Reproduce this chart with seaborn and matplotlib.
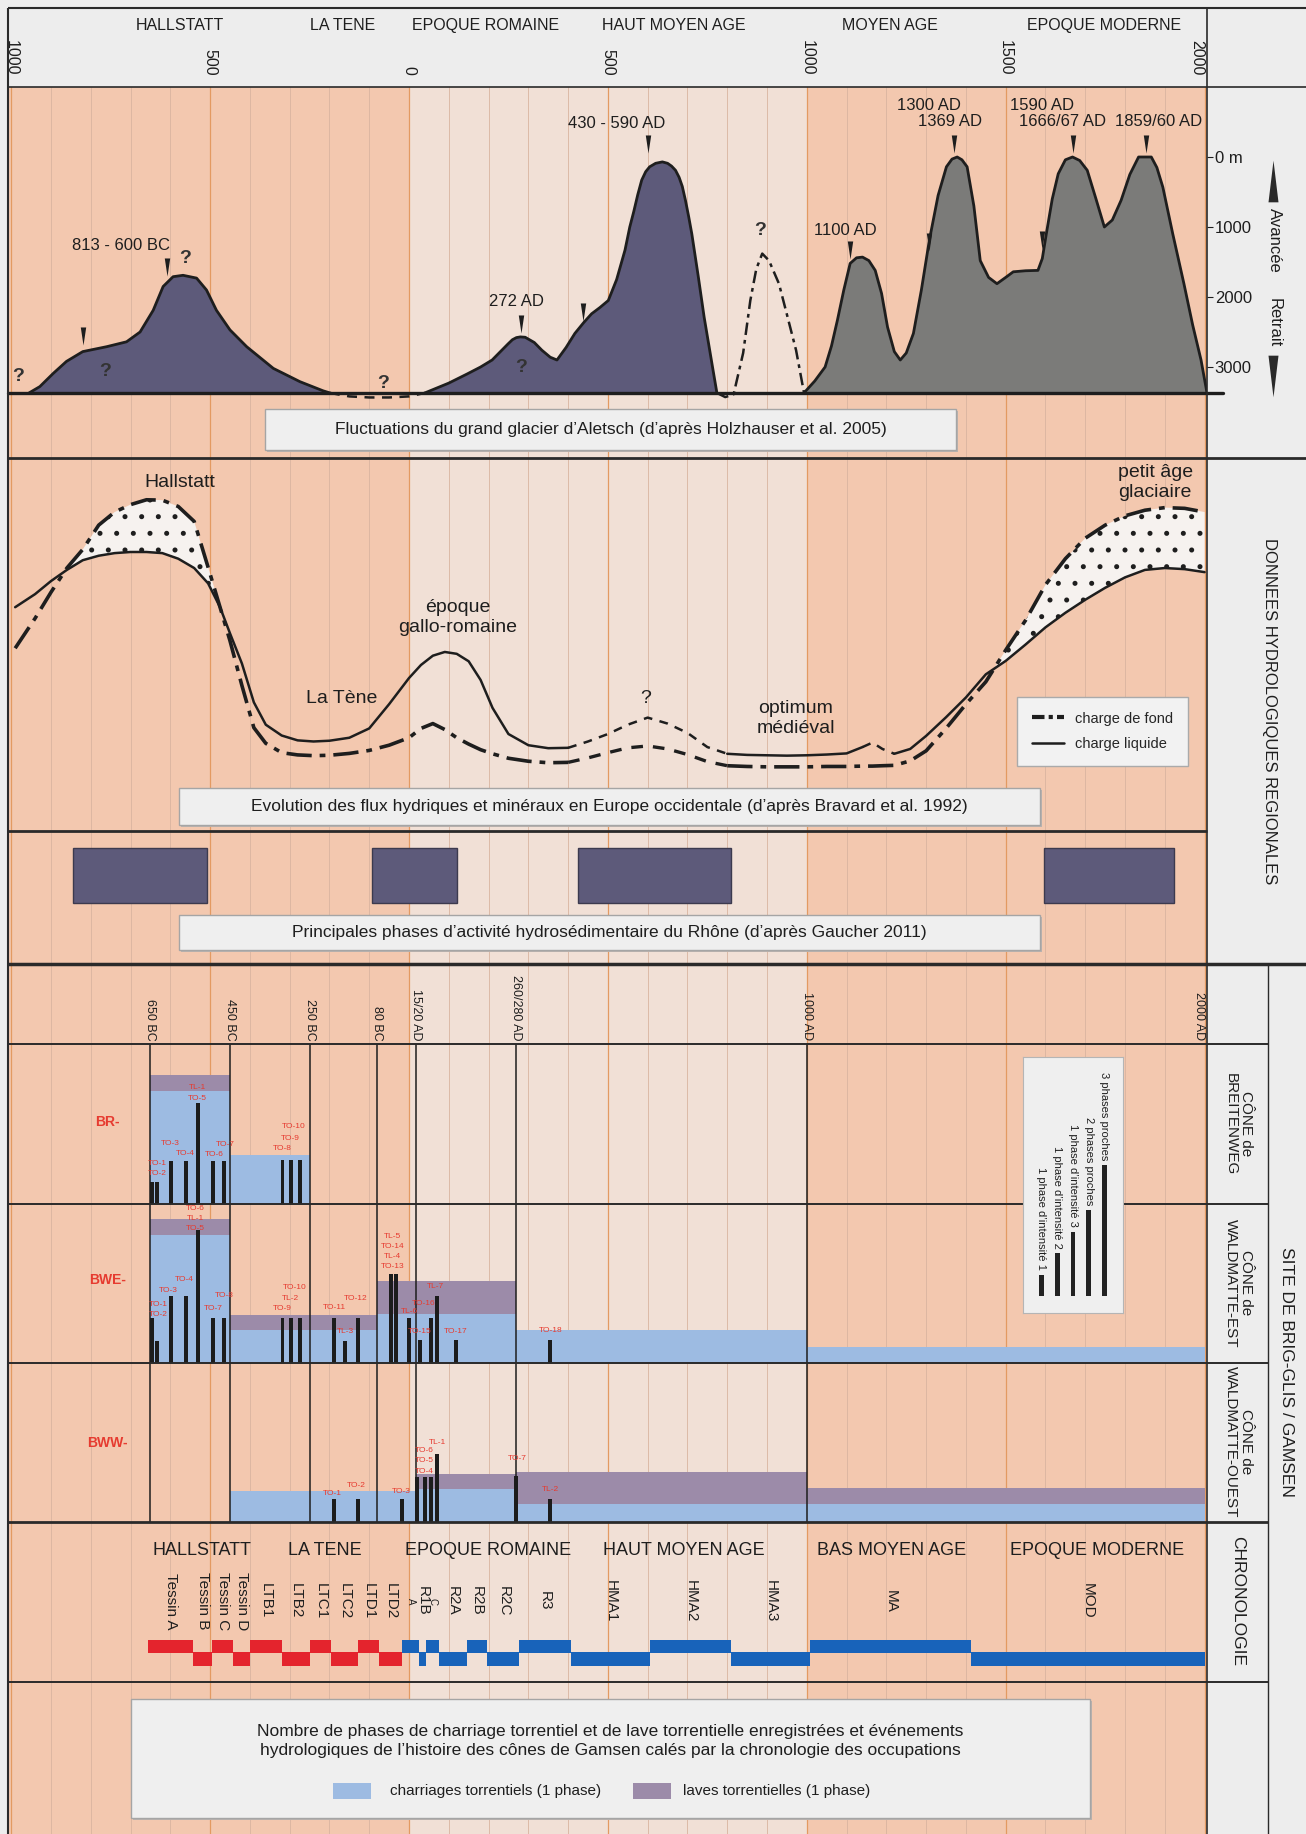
import numpy as np
import matplotlib
matplotlib.use("Agg")
import matplotlib.pyplot as plt
import seaborn as sns
from matplotlib.path import Path
from matplotlib.patches import Rectangle
from matplotlib.lines import Line2D

# ---------------------------------------------------------------- data
head_periods = ["HALLSTATT", "LA TENE", "EPOQUE ROMAINE", "HAUT MOYEN AGE", "MOYEN AGE", "EPOQUE MODERNE"]
head_periods_x = [-576, -168, 193, 665, 1210, 1748]
year_ticks = [-1000, -500, 0, 500, 1000, 1500, 2000]
year_tick_labels = ["1000", "500", "0", "500", "1000", "1500", "2000"]

# glacier d'Aletsch (retreat in m, 0 = maximum extent)
gl_ticks = [0, 1000, 2000, 3000]
gl_tick_labels = ["0 m", "1000", "2000", "3000"]
GL_BASE = 3370
gl1_yr = [-955, -928, -894, -861, -820, -760, -710, -676, -643, -618, -593, -568, -534, -509,
          -484, -450, -408, -341, -274, -216, -199]
gl1_m = [3370, 3280, 3090, 2920, 2780, 2710, 2640, 2500, 2190, 1850, 1710, 1690, 1730, 1900,
         2190, 2470, 2710, 3020, 3210, 3340, 3370]
gl2_yr = [40, 100, 146, 180, 209, 249, 260, 270, 280, 292, 315, 334, 355, 372, 395, 417, 440,
          459, 480, 501, 522, 543, 555, 565, 575, 585, 595, 605, 620, 637, 650, 660, 670, 679,
          687, 695, 703, 711, 727, 742, 763, 774]
gl2_m = [3370, 3230, 3100, 3000, 2900, 2670, 2610, 2580, 2570, 2575, 2650, 2760, 2860, 2900,
         2720, 2520, 2360, 2240, 2150, 2050, 1750, 1330, 1000, 780, 540, 330, 210, 140, 90, 70,
         90, 130, 190, 290, 420, 620, 850, 1100, 1700, 2290, 3000, 3370]
gl3_yr = [993, 1020, 1046, 1062, 1077, 1093, 1109, 1125, 1140, 1156, 1172, 1188, 1203, 1220,
          1235, 1250, 1268, 1288, 1308, 1330, 1351, 1365, 1378, 1390, 1403, 1420, 1436, 1457,
          1478, 1500, 1519, 1550, 1581, 1592, 1602, 1617, 1632, 1650, 1668, 1686, 1705, 1727,
          1748, 1768, 1790, 1812, 1834, 1866, 1880, 1895, 1920, 1948, 1970, 1991, 2006]
gl3_m = [3370, 3200, 3000, 2700, 2330, 1900, 1520, 1440, 1430, 1480, 1620, 1950, 2430, 2780,
         2900, 2800, 2520, 1900, 1190, 550, 140, 30, 0, 40, 140, 700, 1480, 1720,
         1810, 1720, 1640, 1625, 1620, 1450, 1100, 600, 240, 40, 0, 50, 190, 600,
         1000, 900, 620, 250, 0, 0, 150, 430, 1100, 1810, 2400, 2900, 3370]
glq_yr = [774, 795, 816, 840, 858, 873, 888, 905, 930, 950, 973, 993]
glq_m = [3370, 3430, 3390, 2800, 2050, 1600, 1380, 1480, 1810, 2250, 2760, 3370]
glgap_yr = [-199, -150, -100, -50, 0, 40]
glgap_m = [3370, 3420, 3435, 3435, 3420, 3370]
gl_labels = ["813 - 600 BC", "272 AD", "430 - 590 AD", "1100 AD", "1300 AD", "1369 AD",
             "1590 AD", "1666/67 AD", "1859/60 AD"]
gl_label_yr = [-724, 271, 522, 1098, 1307, 1359, 1590, 1643, 1885]
gl_label_m = [1260, 2070, -480, 1050, -740, -500, -740, -500, -500]
gl_q_yr = [-983, -764, -563, -65, 281, 883]
gl_q_m = [3140, 3070, 1450, 3230, 3000, 1050]
gl_mark_yr = [-820, -608, 281, 438, 601, 1109, 1307, 1370, 1590, 1668, 1853]
gl_mark_m = [2560, 1570, 2380, 2210, -180, 1330, 1210, -180, 1190, -180, -180]

# flux hydriques (relative index)
fl_years = np.array([-990, -940, -900, -860, -820, -780, -740, -700, -660, -620, -580, -540,
                     -505, -475, -450, -420, -390, -360, -320, -280, -240, -200,
                     -150, -100, -50, 0, 30, 60, 90, 120, 150, 180, 210, 250, 300, 350, 400,
                     450, 500, 550, 600, 650, 700, 750, 800, 850, 900, 950, 1000, 1050, 1100,
                     1140, 1165, 1190, 1220, 1260, 1300,
                     1350, 1400, 1450, 1500, 1550, 1600, 1650, 1700, 1750, 1800, 1850, 1900, 1950, 2000])
fl_liquid = np.array([60, 63.5, 67, 70, 72.6, 73.8, 74.5, 74.8, 74.8, 74.5, 73, 70.5,
                      66.4, 60, 53, 44.9, 34.5, 28.5, 25.6, 24.3, 24, 24.2,
                      25, 27.5, 34, 41, 44.5, 47, 48, 47.5, 45.5, 40.5, 33, 26, 23, 22.2, 22.3,
                      24, 26, 28.5, 30.4, 28.8, 26.3, 22.5, 20.7, 20.4, 20.3, 20.2, 20.3, 20.5, 20.8,
                      22.5, 23.7, 22, 20.7, 22, 25.5,
                      30.5, 35.8, 42, 45.6, 50, 54.6, 58.5, 62, 65.2, 68, 70, 70.5, 70.2, 69.4])
fl_bed = np.array([49, 57, 64, 70.5, 75.5, 82, 85.5, 87.5, 88.8, 88.7, 87, 83,
                   70.7, 60, 51, 39, 27.7, 23.5, 21, 20.4, 20.2, 20.3,
                   20.8, 21.6, 23, 25, 27.5, 28.8, 27.2, 25, 23.3, 21.8, 20.7, 19.5, 18.7, 18.3, 18.4,
                   19.6, 21, 22.3, 22.8, 22, 20.5, 18.6, 17.5, 17.3, 17.2, 17.2, 17.2, 17.3, 17.3,
                   17.4, 17.4, 17.5, 17.6, 18.8, 21.5,
                   27.5, 34, 40, 48.5, 56.5, 66, 73, 78.5, 82, 84.5, 86, 86.7, 86.5, 85.5])
fl_texts = ["Hallstatt", "La Tène", "époque\ngallo-romaine", "?", "optimum\nmédiéval", "petit âge\nglaciaire"]
fl_text_yr = [-576, -168, 123, 596, 973, 1876]
fl_text_v = [93.3, 35.5, 57.2, 35.5, 30.2, 93.4]

# phases du Rhône
rh_start = [-845, -93, 425, 1597]
rh_end = [-508, 121, 810, 1922]

# Gamsen
gam_ticks = [-650, -450, -250, -80, 17, 270, 1000, 2000]
gam_tick_labels = ["650 BC", "450 BC", "250 BC", "80 BC", "15/20 AD", "260/280 AD", "1000 AD", "2000 AD"]
row_names = ["BR-", "BWE-", "BWW-"]
row_name_y = [3.77, 3.84, 3.69]

br_bands = [(-650, -450, 5.24, 5.97), (-450, -250, 2.25, 2.25)]
br_bar_x = [-647, -633, -598, -560, -531, -492, -464, -318, -297, -274]
br_bar_h = [1.0, 1.0, 2.0, 2.0, 4.65, 2.0, 2.0, 2.05, 2.05, 2.05]
br_labels = ["TL-1", "TO-5", "TO-10", "TO-9", "TO-8", "TO-3", "TO-4", "TO-7", "TO-6", "TO-1", "TO-2"]
br_label_x = [-531, -531, -290, -299, -319, -600, -563, -462, -490, -632, -632]
br_label_y = [5.38, 4.88, 3.57, 3.02, 2.56, 2.79, 2.33, 2.74, 2.28, 1.89, 1.43]

bwe_bands = [(-650, -450, 5.94, 6.70), (-450, -80, 1.55, 2.25), (-80, 270, 2.29, 3.80),
             (270, 1000, 1.55, 1.55), (1000, 2000, 0.75, 0.75)]
bwe_bar_x = [-647, -633, -598, -560, -531, -492, -464, -318, -297, -274, -189, -161, -128,
             -46, -32, -1, 27, 56, 70, 117, 355]
bwe_bar_h = [2.09, 1.04, 3.13, 3.13, 6.2, 2.09, 2.09, 2.09, 2.09, 2.09, 2.09, 1.04, 2.09,
             4.16, 4.16, 2.09, 1.05, 2.09, 3.13, 1.05, 1.05]
bwe_labels = ["TO-6", "TL-1", "TO-5", "TO-4", "TO-3", "TO-1", "TO-2", "TO-8", "TO-7", "TO-10",
              "TL-2", "TO-9", "TO-11", "TO-12", "TL-3", "TL-5", "TO-14", "TL-4", "TO-13", "TL-7",
              "TO-16", "TL-6", "TO-15", "TO-17", "TO-18"]
bwe_label_x = [-537, -537, -537, -565, -604, -630, -630, -464, -493, -288, -297, -319, -187,
               -133, -161, -41, -41, -41, -41, 66, 36, 2, 27, 117, 356]
bwe_label_y = [7.21, 6.74, 6.25, 3.88, 3.36, 2.74, 2.28, 3.13, 2.53, 3.53, 3.01, 2.54, 2.56,
               3.02, 1.47, 5.89, 5.43, 4.96, 4.47, 3.57, 2.79, 2.39, 1.47, 1.47, 1.52]

bww_bands = [(-450, 17, 1.44, 1.44), (17, 270, 1.52, 2.25), (270, 1000, 0.82, 2.33),
             (1000, 2000, 0.84, 1.58)]
bww_bar_x = [-189, -128, -18, 21, 41, 56, 70, 270, 355]
bww_bar_h = [1.05, 1.05, 1.05, 2.1, 2.1, 2.1, 3.15, 2.14, 1.05]
bww_labels = ["TO-1", "TO-2", "TO-3", "TL-1", "TO-6", "TO-5", "TO-4", "TO-7", "TL-2"]
bww_label_x = [-192, -133, -20, 72, 38, 38, 38, 271, 355]
bww_label_y = [1.33, 1.72, 1.44, 3.69, 3.33, 2.87, 2.37, 2.95, 1.52]

leg_labels = ["1 phase d’intensité 1", "1 phase d’intensité 2", "1 phase d’intensité 3",
              "2 phases proches", "3 phases proches"]
leg_heights = [1, 2, 3, 4, 6.1]

# chronologie
chrono_periods = ["HALLSTATT", "LA TENE", "EPOQUE ROMAINE", "HAUT MOYEN AGE", "BAS MOYEN AGE", "EPOQUE MODERNE"]
chrono_periods_x = [-521, -211, 200, 690, 1214, 1730]
chrono_names = ["Tessin A", "Tessin B", "Tessin C", "Tessin D", "LTB1", "LTB2", "LTC1", "LTC2",
                "LTD1", "LTD2", "A", "R1B", "C", "R2A", "R2B", "R2C", "R3", "HMA1", "HMA2",
                "HMA3", "MA", "MOD"]
chrono_edges = [-655, -542, -494, -442, -400, -320, -249, -197, -127, -75, -18, 26, 44, 76,
                145, 197, 277, 407, 606, 809, 1008, 1412, 2000]
chrono_protohist = 10   # first 10 phases drawn in red

# ---------------------------------------------------------------- style
W, H, DPI = 1306, 1834, 100
X0, X1 = 8, 1207
XLIM = (-1008, 2006)
Y_HEAD, Y_GL, Y_FL, Y_RH, Y_GH = 87, 458, 831, 964, 1044
ROW_Y = [(1044, 1204), (1204, 1363), (1363, 1522)]
Y_CH = 1682

SALMON = "#F3C8AF"
LIGHT = "#F1E0D6"
PANEL = "#EDEDED"
INK = "#1E1E1E"
RED = "#E63B30"
BLUE_BAND = "#9DBBE2"
PURPLE_BAND = "#9C8BA9"
SLATE = "#5D5A7A"
GREY = "#7B7B79"
CH_RED = "#E4242D"
CH_BLUE = "#1863BA"

sns.set_style("white")
plt.rcParams["font.family"] = ["Liberation Sans", "DejaVu Sans"]
plt.rcParams["hatch.linewidth"] = 1.2

fig = plt.figure(figsize=(W / DPI, H / DPI), dpi=DPI, facecolor=PANEL)


def rect(x0, y0, x1, y1):
    return [x0 / W, 1 - y1 / H, (x1 - x0) / W, (y1 - y0) / H]


def panel(y0, y1, z=1):
    ax = fig.add_axes(rect(X0, y0, X1, y1), zorder=z)
    ax.set_xlim(XLIM)
    ax.patch.set_alpha(0)
    for s in ax.spines.values():
        s.set_visible(False)
    ax.set_xticks([])
    ax.set_yticks([])
    return ax


def marker_path(half_w, up):
    tip, base = (1, -1) if up else (-1, 1)
    return Path([(-half_w, base), (half_w, base), (0, tip), (-half_w, base)],
                [Path.MOVETO, Path.LINETO, Path.LINETO, Path.CLOSEPOLY])


# ---------------------------------------------------------------- background stripes
bg = panel(Y_HEAD, H, z=0)
bg.axvspan(XLIM[0], 0, color=SALMON, lw=0)
bg.axvspan(0, 1000, color=LIGHT, lw=0)
bg.axvspan(1000, XLIM[1], color=SALMON, lw=0)
for yr in range(-1000, 2001, 100):
    if yr % 500 == 0:
        bg.axvline(yr, color="#E39A62", lw=0.9)
    else:
        bg.axvline(yr, color="#D9B4A0", lw=0.6)

# ---------------------------------------------------------------- glacier
ax_gl = panel(Y_HEAD, Y_GL)
for yr, m, col in [(gl1_yr, gl1_m, SLATE), (gl2_yr, gl2_m, SLATE), (gl3_yr, gl3_m, GREY)]:
    ax_gl.fill_between(yr, m, GL_BASE, color=col, lw=0, zorder=2)
    sns.lineplot(x=yr, y=m, ax=ax_gl, color=INK, lw=2, sort=False, estimator=None, zorder=3)
ax_gl.plot(glq_yr, glq_m, color=INK, lw=1.8, ls=(0, (5, 2, 1.5, 2)), zorder=3)
ax_gl.plot(glgap_yr, glgap_m, color=INK, lw=1.8, ls=(0, (4, 3)), zorder=3)
ax_gl.plot([XLIM[0], 2045], [GL_BASE, GL_BASE], color=INK, lw=2.4, clip_on=False, zorder=4)
ax_gl.plot(gl_mark_yr, gl_mark_m, ls="none", marker=marker_path(0.3, up=False), ms=13,
           color=INK, mew=0, zorder=5)
for t, x, m in zip(gl_labels, gl_label_yr, gl_label_m):
    ax_gl.text(x, m, t, fontsize=12, ha="center", va="center", color=INK, zorder=5)
for x, m in zip(gl_q_yr, gl_q_m):
    ax_gl.text(x, m, "?", fontsize=14, fontweight="bold", ha="center", va="center", color="#333", zorder=5)
ax_gl.set_xlim(XLIM)
ax_gl.set_ylim(4300, -1000)
ax_gl.set_xlabel("")
ax_gl.set_ylabel("")
ax_gl.xaxis.tick_top()
ax_gl.set_xticks(year_ticks, year_tick_labels)
ax_gl.tick_params(axis="x", length=0, pad=8.5, labelsize=11.5, labelrotation=-90, colors=INK)
ax_gl.get_xticklabels()[-1].set_ha("right")
ax_gl.yaxis.tick_right()
ax_gl.set_yticks(gl_ticks, gl_tick_labels)
ax_gl.tick_params(axis="y", right=True, length=4, width=0.8, pad=1.5, labelsize=12, colors=INK)
for t, x in zip(head_periods, head_periods_x):
    ax_gl.text(x, 1.167, t, transform=ax_gl.get_xaxis_transform(), fontsize=11.5,
               ha="center", va="center", color=INK, clip_on=False)

# ---------------------------------------------------------------- flux
ax_fl = panel(Y_GL, Y_FL)
ax_fl.set_ylim(0, 100)
ax_fl.fill_between(fl_years, fl_liquid, fl_bed, where=fl_bed > fl_liquid, interpolate=True,
                   facecolor="#F6F2EF", edgecolor=INK, hatch=".", lw=0, zorder=2)


def seg(lo, hi, vals):
    m = (fl_years >= lo) & (fl_years <= hi)
    return fl_years[m], vals[m]


DASHDOT = (0, (7, 2.2, 1.6, 2.2))
SHORT = (0, (3.5, 3))
for lo, hi in [(-990, 400), (800, 1140), (1220, 2000)]:
    x, y = seg(lo, hi, fl_liquid)
    sns.lineplot(x=x, y=y, ax=ax_fl, color=INK, lw=1.8, sort=False, estimator=None, zorder=3)
for lo, hi in [(400, 800), (1140, 1220)]:
    x, y = seg(lo, hi, fl_liquid)
    ax_fl.plot(x, y, color=INK, lw=1.8, ls=SHORT, zorder=3)
for lo, hi in [(-990, 400), (800, 2000)]:
    x, y = seg(lo, hi, fl_bed)
    ax_fl.plot(x, y, color=INK, lw=2.6, ls=DASHDOT, zorder=3)
x, y = seg(400, 800, fl_bed)
ax_fl.plot(x, y, color=INK, lw=2.4, ls=SHORT, zorder=3)
for t, x, v in zip(fl_texts, fl_text_yr, fl_text_v):
    ax_fl.text(x, v, t, fontsize=14, ha="center", va="center", color=INK, linespacing=1.25, zorder=5)
ax_fl.set_xlim(XLIM)
ax_fl.set_ylim(0, 100)
ax_fl.set_xlabel("")
ax_fl.set_ylabel("")
handles = [Line2D([], [], color=INK, lw=3, ls=(0, (3, 1, 1, 1))),
           Line2D([], [], color=INK, lw=1.8)]
leg = ax_fl.legend(handles, ["charge de fond", "charge liquide"], loc="center",
                   bbox_to_anchor=(0.913, 0.267), fontsize=10.5, frameon=True, fancybox=False,
                   facecolor="#F2F2F2", edgecolor="#AAAAAA", handlelength=2.2, borderpad=1.0,
                   labelspacing=0.8)
leg.get_frame().set_alpha(1)

# ---------------------------------------------------------------- Rhône
ax_rh = panel(Y_FL, Y_RH)
ax_rh.set_ylim(0, 1)
ax_rh.bar(rh_start, 0.418, width=np.subtract(rh_end, rh_start), bottom=0.455, align="edge",
          color=SLATE, edgecolor="#3C3A4E", lw=1)

# ---------------------------------------------------------------- Gamsen rows
rows = [(br_bands, br_bar_x, br_bar_h, br_labels, br_label_x, br_label_y),
        (bwe_bands, bwe_bar_x, bwe_bar_h, bwe_labels, bwe_label_x, bwe_label_y),
        (bww_bands, bww_bar_x, bww_bar_h, bww_labels, bww_label_x, bww_label_y)]
row_axes = []
for i, (bands, bx, bh, labs, lx, ly) in enumerate(rows):
    ax = panel(*ROW_Y[i])
    ax.set_ylim(0, 7.4)
    for s, e, btop, ptop in bands:
        ax.bar(s, btop, width=e - s, align="edge", color=BLUE_BAND, lw=0, zorder=1)
        if ptop > btop:
            ax.bar(s, ptop - btop, width=e - s, bottom=btop, align="edge", color=PURPLE_BAND,
                   lw=0, zorder=1)
    for g in gam_ticks[:-1]:
        ax.axvline(g, color=INK, lw=1.1, zorder=2)
    ax.bar(bx, bh, width=10, color="#1C1C1C", lw=0, zorder=3)
    for t, x, y in zip(labs, lx, ly):
        ax.text(x, y, t, fontsize=6, color=RED, ha="center", va="center", zorder=4)
    ax.text(-757, row_name_y[i], row_names[i], fontsize=10, fontweight="bold", color=RED,
            ha="center", va="center")
    row_axes.append(ax)
ax_br = row_axes[0]
ax_br.xaxis.tick_top()
ax_br.set_xticks(gam_ticks, gam_tick_labels)
ax_br.tick_params(axis="x", length=0, pad=2.5, labelsize=9, labelrotation=-90, colors=INK)
ax_br.get_xticklabels()[-1].set_ha("right")

# ---------------------------------------------------------------- chronologie
ax_ch = panel(ROW_Y[2][1], Y_CH)
ax_ch.set_ylim(0, 1)
edges = np.array(chrono_edges)
lefts, widths = edges[:-1], np.diff(edges)
upper = np.arange(len(lefts)) % 2 == 0
cols = [CH_RED if k < chrono_protohist else CH_BLUE for k in range(len(lefts))]
ax_ch.bar(lefts, 0.085, width=widths, bottom=np.where(upper, 0.18, 0.1), align="edge",
          color=cols, lw=0)
centers = lefts + widths / 2
for name, cx in zip(chrono_names, centers):
    small = len(name) == 1
    ax_ch.text(cx, 0.506, name, rotation=-90, fontsize=7 if small else 11, ha="center",
               va="center", color=INK)
for t, x in zip(chrono_periods, chrono_periods_x):
    ax_ch.text(x, 0.819, t, fontsize=13, ha="center", va="center", color=INK)

# ---------------------------------------------------------------- legend inset (intensité)
ax_leg = fig.add_axes(rect(1023, 1057, 1123, 1313), zorder=20)
ax_leg.set_facecolor("#EFEFEF")
for s in ax_leg.spines.values():
    s.set_color("#B5B5B5")
    s.set_linewidth(0.8)
ax_leg.set_xlim(-1.17, 5.18)
ax_leg.set_ylim(-0.79, 11.12)
ax_leg.set_xticks([])
ax_leg.set_yticks([])
ax_leg.bar(range(len(leg_heights)), leg_heights, width=0.3, color="#222222", lw=0)
for k, (t, h) in enumerate(zip(leg_labels, leg_heights)):
    ax_leg.text(k, h + 0.2, t, rotation=-90, fontsize=8, ha="center", va="bottom", color=INK)

# ---------------------------------------------------------------- overlay: frame, boxes, column texts
ov = fig.add_axes([0, 0, 1, 1], zorder=10)
ov.set_xlim(0, W)
ov.set_ylim(H, 0)
ov.axis("off")
ov.patch.set_alpha(0)


def hline(y, x0, x1, lw):
    ov.plot([x0, x1], [y, y], color="#2A2A2A", lw=lw, solid_capstyle="butt")


def vline(x, y0, y1, lw):
    ov.plot([x, x], [y0, y1], color="#2A2A2A", lw=lw, solid_capstyle="butt")


hline(8, 8, W, 1.5)
vline(8, 8, H, 1.5)
vline(X1, 8, H, 1.2)
hline(Y_HEAD, 8, W, 1.2)
hline(Y_GL, 8, W, 2.0)
hline(Y_FL, 8, X1, 2.0)
hline(Y_RH, 8, W, 2.5)
for y in [1044, 1204, 1363]:
    hline(y, 8, 1268, 1.4)
hline(1522, 8, 1268, 2.0)
hline(Y_CH, 8, 1268, 1.4)
vline(1268, Y_RH, H, 1.0)


def box(x0, y0, x1, y1, text, fs):
    ov.add_patch(Rectangle((x0 + 2, y0 + 2), x1 - x0, y1 - y0, facecolor="#B9B2AE", lw=0))
    ov.add_patch(Rectangle((x0, y0), x1 - x0, y1 - y0, facecolor="#EFEFEF", edgecolor="#A5A5A5", lw=1))
    if text:
        ov.text((x0 + x1) / 2, (y0 + y1) / 2, text, fontsize=fs, ha="center", va="center",
                color=INK, linespacing=1.3)


box(265, 409, 956, 450, "Fluctuations du grand glacier d’Aletsch (d’après Holzhauser et al. 2005)", 12.5)
box(179, 788, 1040, 825, "Evolution des flux hydriques et minéraux en Europe occidentale (d’après Bravard et al. 1992)", 12.5)
box(179, 915, 1040, 950, "Principales phases d’activité hydrosédimentaire du Rhône (d’après Gaucher 2011)", 12.5)
box(131, 1699, 1090, 1818, "", 12.5)
ov.text(610, 1741, "Nombre de phases de charriage torrentiel et de lave torrentielle enregistrées et événements\n"
        "hydrologiques de l’histoire des cônes de Gamsen calés par la chronologie des occupations",
        fontsize=12.5, ha="center", va="center", color=INK, linespacing=1.3)
ov.add_patch(Rectangle((333, 1783), 38, 16, facecolor=BLUE_BAND, lw=0))
ov.text(390, 1791, "charriages torrentiels (1 phase)", fontsize=11, va="center", color=INK)
ov.add_patch(Rectangle((633, 1783), 38, 16, facecolor=PURPLE_BAND, lw=0))
ov.text(683, 1791, "laves torrentielles (1 phase)", fontsize=11, va="center", color=INK)

# right column
ov.plot([1273], [181], marker=marker_path(0.24, up=True), ms=30, color="#2A2A2A", mew=0)
ov.plot([1273], [376], marker=marker_path(0.24, up=False), ms=30, color="#2A2A2A", mew=0)
ov.text(1274, 240, "Avancée", rotation=-90, fontsize=12, ha="center", va="center", color=INK)
ov.text(1274, 323, "Retrait", rotation=-90, fontsize=12, ha="center", va="center", color=INK)
ov.text(1270, 711, "DONNEES HYDROLOGIQUES REGIONALES", rotation=-90, fontsize=12,
        ha="center", va="center", color=INK)
for txt, yc in [("CÔNE de\nBREITENWEG", 1124), ("CÔNE de\nWALDMATTE-EST", 1283),
                ("CÔNE de\nWALDMATTE-OUEST", 1442)]:
    ov.text(1238, yc, txt, rotation=-90, fontsize=11, ha="center", va="center", color=INK,
            multialignment="center", linespacing=1.1)
ov.text(1238, 1601, "CHRONOLOGIE", rotation=-90, fontsize=12.5, ha="center", va="center", color=INK)
ov.text(1287, 1372, "SITE DE BRIG-GLIS / GAMSEN", rotation=-90, fontsize=12.5, ha="center",
        va="center", color=INK)

fig.savefig("out.png", dpi=DPI, facecolor=fig.get_facecolor())
